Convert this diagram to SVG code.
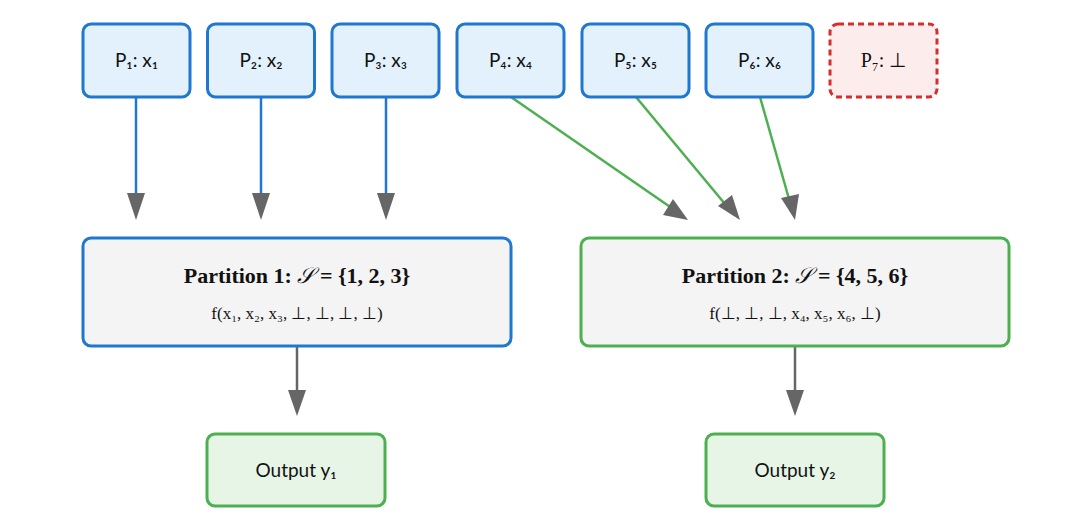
<svg xmlns="http://www.w3.org/2000/svg" width="1078" height="528" viewBox="0 0 1078 528">
<style>
.p{fill:#e3f1fc;stroke:#1f77d0;stroke-width:3}
.t{font-family:Lato,"Liberation Sans",sans-serif;font-size:19px;fill:#111;text-anchor:middle}
.m{font-family:"Liberation Serif",serif;fill:#111;text-anchor:middle}
.b{stroke:#1f77d0;stroke-width:2.5;fill:none}
.g{stroke:#4caf50;stroke-width:2.5;fill:none}
.k{stroke:#666;stroke-width:2.5;fill:none}
</style>
<defs><marker id="a" viewBox="0 0 10 10" refX="10" refY="5" markerWidth="7" markerHeight="8" markerUnits="userSpaceOnUse" orient="auto"><path d="M0,0L10,5L0,10z" fill="#666"/></marker>
<marker id="ah" viewBox="0 0 10 10" refX="10" refY="5" markerWidth="18" markerHeight="18" markerUnits="userSpaceOnUse" orient="auto"><path d="M0,1.5L10,5L0,8.5z" fill="#666"/></marker></defs>
<rect width="1078" height="528" fill="#fff"/>
<g id="connectors">
<path class="b" d="M136,97V205"/><path d="M127,193L136,220L145,193z" fill="#666"/>
<path class="b" d="M261,97V205"/><path d="M252,193L261,220L270,193z" fill="#666"/>
<path class="b" d="M386,97V205"/><path d="M377,193L386,220L395,193z" fill="#666"/>
<path class="g" d="M511,97L676,211"/><path class="g" d="M636,97L730,210"/><path class="g" d="M760,97L791,206"/>
<path d="M663,215L688,220L673,199z" fill="#666"/>
<path d="M718,206L740,220L732,195z" fill="#666"/>
<path d="M781,198L795,220L799,194z" fill="#666"/>
<path class="k" d="M297,346V400"/><path d="M288,390L297,416L306,390z" fill="#666"/>
<path class="k" d="M795,346V400"/><path d="M786,390L795,416L804,390z" fill="#666"/>
</g>
<g id="P1"><rect class="p" x="83" y="24" width="107" height="73" rx="8"/><text class="t" x="136.5" y="67">P₁: x₁</text></g>
<g id="P2"><rect class="p" x="207.5" y="24" width="107" height="73" rx="8"/><text class="t" x="261" y="67">P₂: x₂</text></g>
<g id="P3"><rect class="p" x="332" y="24" width="107" height="73" rx="8"/><text class="t" x="385.5" y="67">P₃: x₃</text></g>
<g id="P4"><rect class="p" x="457" y="24" width="107" height="73" rx="8"/><text class="t" x="510.5" y="67">P₄: x₄</text></g>
<g id="P5"><rect class="p" x="582" y="24" width="107" height="73" rx="8"/><text class="t" x="635.5" y="67">P₅: x₅</text></g>
<g id="P6"><rect class="p" x="706" y="24" width="107" height="73" rx="8"/><text class="t" x="759.5" y="67">P₆: x₆</text></g>
<g id="P7"><rect x="830" y="24" width="107" height="73" rx="8" fill="#fdecec" stroke="#d32f2f" stroke-width="3" stroke-dasharray="6,4"/><text class="m" x="883.5" y="67" font-size="20" fill="#444">P₇: ⊥</text></g>
<g id="part1"><rect x="83" y="238" width="428" height="108" rx="8" fill="#f4f4f4" stroke="#1f77d0" stroke-width="3"/>
<text class="m" x="297" y="283" font-size="22" font-weight="bold">Partition 1: <tspan font-style="italic" font-weight="normal">𝒮</tspan>  = {1, 2, 3}</text>
<text class="m" x="297" y="319" font-size="17">f(x₁, x₂, x₃, ⊥, ⊥, ⊥, ⊥)</text></g>
<g id="part2"><rect x="581" y="238" width="428" height="108" rx="8" fill="#f4f4f4" stroke="#4caf50" stroke-width="3"/>
<text class="m" x="795" y="283" font-size="22" font-weight="bold">Partition 2: <tspan font-style="italic" font-weight="normal">𝒮</tspan>  = {4, 5, 6}</text>
<text class="m" x="795" y="319" font-size="17">f(⊥, ⊥, ⊥, x₄, x₅, x₆, ⊥)</text></g>
<g id="out1"><rect x="207" y="434" width="178" height="72" rx="8" fill="#e7f5e7" stroke="#4caf50" stroke-width="3"/><text class="t" x="296" y="477">Output y₁</text></g>
<g id="out2"><rect x="706" y="434" width="178" height="72" rx="8" fill="#e7f5e7" stroke="#4caf50" stroke-width="3"/><text class="t" x="795" y="477">Output y₂</text></g>
</svg>
